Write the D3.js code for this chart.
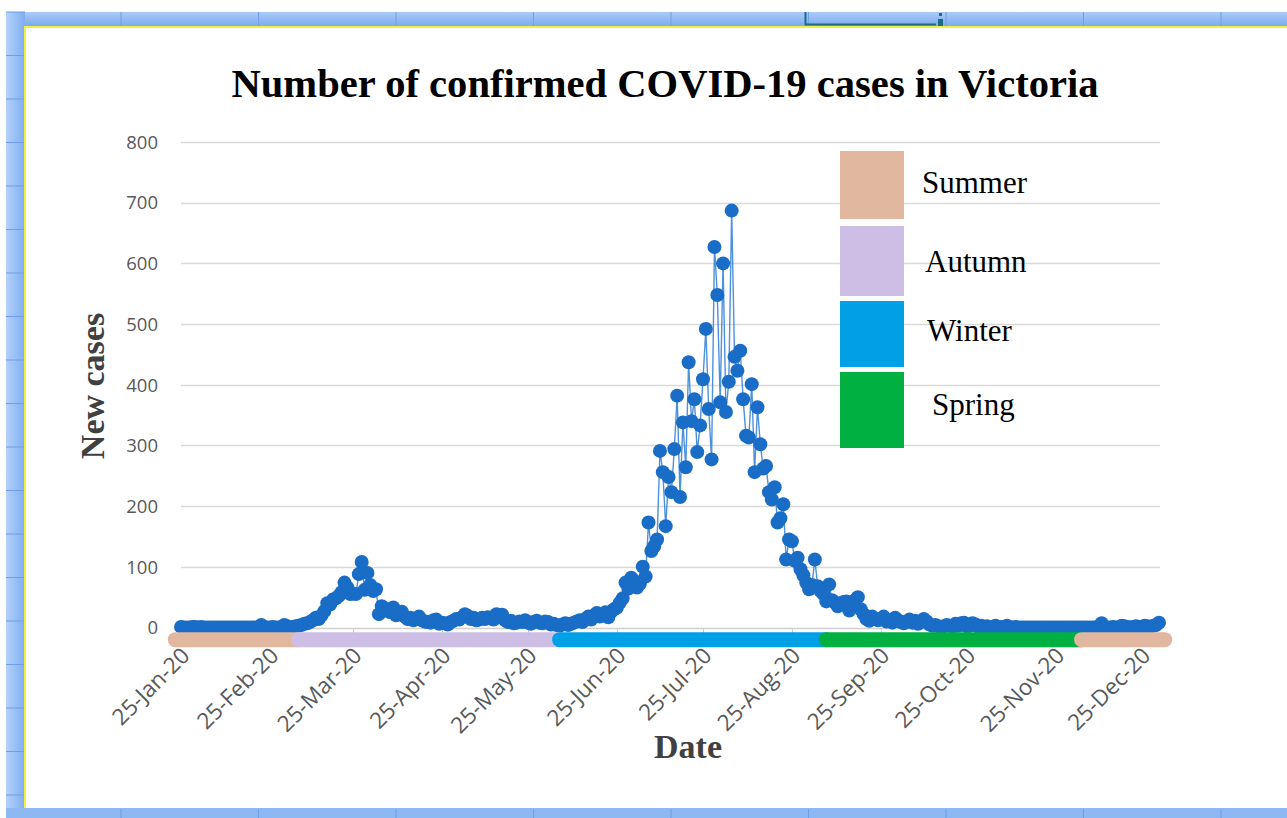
<!DOCTYPE html>
<html>
<head>
<meta charset="utf-8">
<script src="https://cdn.jsdelivr.net/npm/d3@7"></script>
<style>
  html, body { margin: 0; padding: 0; background: #ffffff; }
  svg { display: block; }
</style>
</head>
<body>
<svg id="chart" width="1287" height="818"></svg>
<script>
// Daily new confirmed cases in Victoria, one value per day from 25 Jan 2020.
const firstDay = "2020-01-25";
const newCases = [
  // 25 Jan – 29 Feb
  1,0,0,0,1,1,0,1,0,0, 0,0,0,0,0,0,0,0,0,0, 0,0,0,0,0,0,0,0, 4,1,0,0,1,0,0,1,
  // March
  4,2,0,1,2,3,4,6,7,9, 12,16,14,20,27,40,38,46,48,52, 58,74,66,55,56,55,88,108,62,90, 70,
  // April
  60,63,22,35,28,30,25,33,20,24, 26,18,14,16,12,15,18,12,10,9, 8,12,13,6,8,7,5,9,11,14,
  // May
  13,17,22,19,14,16,12,13,16,14, 17,15,13,22,18,21,12,9,11,7, 8,10,9,12,8,6,9,11,8,7, 10,
  // June
  9,5,6,4,3,5,7,4,6,8, 10,12,9,14,18,13,20,24,18,22, 25,17,26,30,33,41,48,74,64,82,
  // July
  77,66,72,100,84,173,126,134,145,291, 256,167,248,223,294,382,215,338,264,437,
  340,376,289,333,409,492,360,277,627,548, 371,
  // August
  600,355,405,687,446,423,456,376,316,313, 401,256,363,302,262,266,223,211,231,173,
  180,203,112,145,142,110,115,96,86,74, 63,
  // September
  70,112,68,60,55,43,71,45,41,35, 40,42,43,28,38,45,50,30,22,14, 11,18,15,12,14,18,10,12,8,16,
  // October
  12,9,7,10,13,8,11,6,9,14, 10,5,3,4,2,1,2,4,3,1, 6,3,7,8,2,3,7,5,1,3, 0,
  // November
  2,0,0,3,0,1,0,3,0,0, 1,0,0,0,0,0,0,0,0,0, 0,0,0,0,0,0,0,0,0,0,
  // December
  0,0,0,0,0,0,0,0,0,2, 7,1,0,0,1,0,0,3,2,1, 0,1,2,1,0,3,2,1,3,4, 8
];

// Season bands drawn under the axis.
const seasonLabel = ["Summer", "Autumn", "Winter", "Spring", "Summer"];
const seasonFrom  = ["2020-01-23", "2020-03-06", "2020-06-05", "2020-09-06", "2020-12-04"];
const seasonTo    = ["2020-03-06", "2020-06-05", "2020-09-06", "2020-12-04", "2021-01-02"];
const seasonLevel = -20;

// Legend entries and colours.
const legendNames  = ["Summer", "Autumn", "Winter", "Spring"];
const legendColors = ["#E1B7A0", "#CDBEE6", "#00A0E6", "#00B040"];

// Axis ticks.
const yTicks = [0, 100, 200, 300, 400, 500, 600, 700, 800];
const xTickDates = ["2020-01-25","2020-02-25","2020-03-25","2020-04-25","2020-05-25","2020-06-25",
                    "2020-07-25","2020-08-25","2020-09-25","2020-10-25","2020-11-25","2020-12-25"];

const parse = d3.utcParse("%Y-%m-%d");
const fmt = d3.utcFormat("%d-%b-%y");
const day0 = parse(firstDay);
const series = newCases.map((v, i) => ({ date: d3.utcDay.offset(day0, i), value: v }));
const seasonColor = d3.scaleOrdinal().domain(legendNames).range(legendColors);

const W = 1287, H = 818;
const svg = d3.select("#chart");

// ---- worksheet frame around the chart object ----
const defs = svg.append("defs");
const gTop = defs.append("linearGradient").attr("id", "hdrTop").attr("x1", 0).attr("y1", 0).attr("x2", 0).attr("y2", 1);
gTop.append("stop").attr("offset", "0%").attr("stop-color", "#A9CBF8");
gTop.append("stop").attr("offset", "100%").attr("stop-color", "#79A9EE");
const gLeft = defs.append("linearGradient").attr("id", "hdrLeft").attr("x1", 0).attr("y1", 0).attr("x2", 1).attr("y2", 0);
gLeft.append("stop").attr("offset", "0%").attr("stop-color", "#B4D1F9");
gLeft.append("stop").attr("offset", "100%").attr("stop-color", "#7FAEF0");

const frame = svg.append("g");
frame.append("rect").attr("x", 8).attr("y", 12).attr("width", W - 8).attr("height", 15).attr("fill", "url(#hdrTop)");
frame.append("rect").attr("x", 6).attr("y", 12).attr("width", 19).attr("height", H - 12).attr("fill", "url(#hdrLeft)");
frame.append("rect").attr("x", 6).attr("y", 808).attr("width", W - 6).attr("height", 10).attr("fill", "#8DB8F4");

const colLines = d3.range(0, 10).map(i => 121 + i * 137.5);
frame.selectAll("line.col").data(colLines).join("line")
  .attr("x1", d => d).attr("x2", d => d).attr("y1", 12).attr("y2", 26)
  .attr("stroke", "#6E9FE6").attr("stroke-width", 1);
frame.selectAll("line.colb").data(colLines).join("line")
  .attr("x1", d => d).attr("x2", d => d).attr("y1", 809).attr("y2", 818)
  .attr("stroke", "#6E9FE6").attr("stroke-width", 1);
const rowLines = d3.range(0, 19).map(i => 12 + i * 43.5);
frame.selectAll("line.row").data(rowLines).join("line")
  .attr("x1", 6).attr("x2", 25).attr("y1", d => d).attr("y2", d => d)
  .attr("stroke", "#6E9FE6").attr("stroke-width", 1);

// active cell marker in the header row
frame.append("path").attr("d", "M805.5,12 V24.5 H936").attr("fill", "none").attr("stroke", "#1C6A86").attr("stroke-width", 2);
frame.append("rect").attr("x", 938).attr("y", 19).attr("width", 5).attr("height", 7).attr("fill", "#1C6A86");
frame.append("rect").attr("x", 939).attr("y", 13).attr("width", 3).attr("height", 3).attr("fill", "#1C6A86");

// chart object area with its yellow selection edge
svg.append("rect").attr("x", 25).attr("y", 27).attr("width", W - 25).attr("height", 781).attr("fill", "#ffffff");
svg.append("line").attr("x1", 24).attr("x2", W).attr("y1", 27).attr("y2", 27).attr("stroke", "#F0F040").attr("stroke-width", 2);
svg.append("line").attr("x1", 25).attr("x2", 25).attr("y1", 26).attr("y2", 808).attr("stroke", "#F0F040").attr("stroke-width", 2);

// ---- scales ----
const x = d3.scaleUtc().domain([day0, parse("2020-12-31")]).range([181, 1159]);
const y = d3.scaleLinear().domain([0, 800]).range([627.5, 142]);

const plot = svg.append("g");

// gridlines
plot.selectAll("line.grid").data(yTicks.filter(v => v > 0)).join("line")
  .attr("x1", 181).attr("x2", 1160)
  .attr("y1", d => Math.round(y(d)) + 0.5).attr("y2", d => Math.round(y(d)) + 0.5)
  .attr("stroke", "#D9D9D9").attr("stroke-width", 1.3);

// y axis labels
const yAxis = d3.axisLeft(y).tickValues(yTicks).tickSize(0).tickPadding(0).tickFormat(d3.format("d"));
const gy = plot.append("g").attr("transform", "translate(158,0)").call(yAxis);
gy.select(".domain").remove();
gy.selectAll("text").attr("font-family", "'Open Sans', 'Segoe UI', sans-serif").attr("font-size", 18.5)
  .attr("fill", "#595959").attr("dy", "0.34em");

// x axis
const xAxis = d3.axisBottom(x).tickValues(xTickDates.map(parse)).tickSize(5).tickFormat(fmt);
const gx = plot.append("g").attr("transform", `translate(0,${Math.round(y(0)) + 0.5})`).call(xAxis);
gx.select(".domain").attr("stroke", "#D0D0D0").attr("stroke-width", 1.3).attr("d", "M181,0H1160");
gx.selectAll(".tick line").attr("stroke", "#C8C8C8");
gx.selectAll(".tick text")
  .attr("font-family", "'Open Sans', 'Segoe UI', sans-serif").attr("font-size", 22.5)
  .attr("fill", "#595959")
  .attr("text-anchor", "end")
  .attr("transform", "translate(4,23) rotate(-45)")
  .attr("x", 0).attr("y", 0).attr("dy", "0.35em");

// series line and markers
const line = d3.line().x(d => x(d.date)).y(d => y(d.value));
plot.append("path").datum(series).attr("d", line)
  .attr("fill", "none").attr("stroke", "#3A84D8").attr("stroke-width", 1.4).attr("stroke-opacity", 0.9);
plot.selectAll("circle.pt").data(series).join("circle")
  .attr("cx", d => x(d.date)).attr("cy", d => y(d.value)).attr("r", 7)
  .attr("fill", "#1A6DC6");

// season bands
const seasons = seasonLabel.map((s, i) => ({ name: s, from: parse(seasonFrom[i]), to: parse(seasonTo[i]) }));
plot.selectAll("line.season").data(seasons).join("line")
  .attr("x1", d => x(d.from)).attr("x2", d => x(d.to))
  .attr("y1", y(seasonLevel)).attr("y2", y(seasonLevel))
  .attr("stroke", d => seasonColor(d.name)).attr("stroke-width", 15).attr("stroke-linecap", "round");

// title and axis titles
const serif = "'Liberation Serif', 'Times New Roman', serif";
svg.append("text").attr("x", 665).attr("y", 97).attr("text-anchor", "middle")
  .attr("font-family", serif).attr("font-weight", "bold").attr("font-size", 40.6)
  .text("Number of confirmed COVID-19 cases in Victoria");
svg.append("text").attr("transform", "translate(104,386) rotate(-90)").attr("text-anchor", "middle")
  .attr("font-family", serif).attr("font-weight", "bold").attr("font-size", 34).attr("fill", "#404040")
  .text("New cases");
svg.append("text").attr("x", 688).attr("y", 758).attr("text-anchor", "middle")
  .attr("font-family", serif).attr("font-weight", "bold").attr("font-size", 34).attr("fill", "#404040")
  .text("Date");

// legend
const legendTop = [151, 226, 301, 372];
const legendHeight = [68, 70, 66, 76];
const legendTextX = [922, 925, 927, 932];
const legendBaseline = [193, 272, 341, 415];
const legend = svg.append("g");
legendNames.forEach((name, i) => {
  legend.append("rect").attr("x", 840).attr("y", legendTop[i]).attr("width", 64).attr("height", legendHeight[i])
    .attr("fill", seasonColor(name));
  legend.append("text").attr("x", legendTextX[i]).attr("y", legendBaseline[i])
    .attr("font-family", serif).attr("font-size", 31).attr("fill", "#000")
    .text(name);
});
</script>
</body>
</html>
